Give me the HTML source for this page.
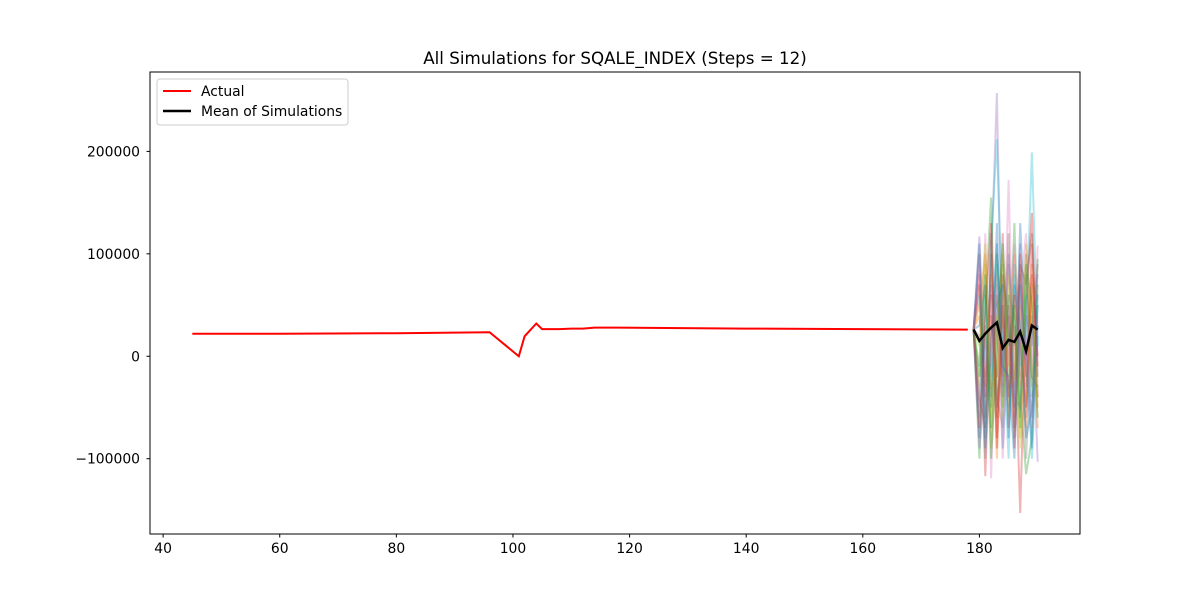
<!DOCTYPE html>
<html><head><meta charset="utf-8"><style>
body{margin:0;background:#fff;}
svg{display:block;font-family:"DejaVu Sans","Liberation Sans",sans-serif;}
</style></head><body>
<svg id="chart" width="1200" height="600" xmlns="http://www.w3.org/2000/svg">
<rect width="1200" height="600" fill="#fff"/>
<text x="615" y="64" font-size="16.7" text-anchor="middle">All Simulations for SQALE_INDEX (Steps = 12)</text>
<g id="plot"></g>
<rect x="150" y="72" width="930" height="462" fill="none" stroke="#000" stroke-width="1"/>
<g id="axes"></g>
<g>
<rect x="157" y="79" width="191" height="46" fill="#fff" stroke="#ccc" rx="3"/>
<line x1="163" y1="91" x2="191" y2="91" stroke="red" stroke-width="2"/>
<text x="201" y="96" font-size="13.9">Actual</text>
<line x1="163" y1="111" x2="191" y2="111" stroke="#000" stroke-width="2.5"/>
<text x="201" y="116" font-size="13.9">Mean of Simulations</text>
</g>
</svg>
<script>
const actualX=[45,60,80,96,101,102,104,105,108,110,112,114,118,140,160,178];
const actualY=[22000,22000,22500,23500,0,19500,32000,26500,26500,27000,27000,28000,28000,27000,26500,26000];
const simX=[179,180,181,182,183,184,185,186,187,188,189,190];
const meanY=[26000,15000,22000,28000,33000,8000,16000,14000,24000,5000,30000,26000];
const sims=[
[26000,117000,-20000,90000,257000,-40000,60000,-30000,110000,-60000,40000,-103000],
[26000,60000,-80000,110000,212000,20000,-50000,80000,-20000,30000,199000,10000],
[26000,-100000,50000,155000,-60000,90000,-20000,130000,-40000,-115000,-80000,95000],
[26000,80000,-117000,40000,-20000,120000,-70000,30000,-153000,50000,140000,-40000],
[26000,-50000,120000,-119000,70000,-40000,172000,-60000,60000,120000,-30000,108000],
[26000,40000,-30000,80000,-100000,60000,-10000,100000,-20000,-70000,90000,-70000],
[26000,-80000,20000,-40000,130000,-90000,40000,-50000,130000,10000,-60000,50000],
[26000,100000,-60000,20000,60000,-20000,120000,-80000,20000,100000,-20000,-30000],
[26000,-30000,90000,-90000,30000,100000,-60000,60000,-80000,-40000,70000,60000],
[26000,20000,-100000,120000,-40000,-70000,90000,10000,80000,-100000,30000,90000],
[26000,-60000,60000,-20000,90000,30000,-100000,90000,-10000,60000,-100000,20000],
[26000,70000,-40000,60000,-80000,80000,30000,-90000,100000,-20000,110000,-10000],
[26000,-20000,30000,-70000,100000,-50000,60000,40000,-60000,80000,-40000,70000],
[26000,50000,100000,-30000,-20000,40000,-30000,-20000,50000,-30000,60000,-50000],
[26000,-90000,-20000,70000,20000,-30000,100000,-40000,-50000,40000,10000,80000],
[26000,30000,70000,-50000,50000,70000,-80000,70000,30000,-80000,-50000,30000],
[26000,-40000,-70000,100000,-50000,10000,50000,-70000,90000,70000,120000,-20000],
[26000,90000,10000,-10000,80000,-100000,20000,110000,-30000,20000,-70000,40000],
[26000,10000,110000,-60000,40000,-60000,80000,-10000,-90000,110000,-10000,-40000],
[26000,-70000,40000,130000,-90000,50000,-40000,60000,10000,-50000,80000,0],
[26000,110000,-90000,10000,110000,-10000,-20000,-100000,70000,-10000,-90000,60000],
[26000,-10000,80000,-100000,10000,110000,10000,50000,-70000,90000,50000,-60000]
];
const colors=['#9467bd','#17becf','#2ca02c','#d62728','#e377c2','#ff7f0e','#1f77b4','#8c564b','#bcbd22','#7f7f7f','#17becf','#d62728','#2ca02c','#ff7f0e','#9467bd','#1f77b4','#8c564b','#e377c2','#bcbd22','#d62728','#1f77b4','#2ca02c'];
const xTicks=[40,60,80,100,120,140,160,180];
const yTicks=[-100000,0,100000,200000];
const yTickLabels=['−100000','0','100000','200000'];
const X0=37.75,X1=197.25,Y0=-173500,Y1=277500;
const L=150,R=1080,T=72,B=534;
const sx=v=>L+(v-X0)/(X1-X0)*(R-L);
const sy=v=>B-(v-Y0)/(Y1-Y0)*(B-T);
const NS='http://www.w3.org/2000/svg';
const plot=document.getElementById('plot'),axes=document.getElementById('axes');
function mk(tag,attrs,parent){const e=document.createElementNS(NS,tag);for(const k in attrs)e.setAttribute(k,attrs[k]);parent.appendChild(e);return e;}
const pts=(xs,ys)=>xs.map((x,i)=>sx(x).toFixed(1)+','+sy(ys[i]).toFixed(1)).join(' ');
sims.forEach((s,i)=>{
 const p=mk('polyline',{points:pts(simX,s),fill:'none',stroke:colors[i%colors.length],'stroke-width':2,'stroke-opacity':0.35},plot);
 
 
});
const a=mk('polyline',{points:pts(actualX,actualY),fill:'none',stroke:'red','stroke-width':2},plot);


const m=mk('polyline',{points:pts(simX,meanY),fill:'none',stroke:'#000','stroke-width':2.5},plot);


xTicks.forEach(t=>{
 const x=sx(t);
 mk('line',{x1:x,y1:B,x2:x,y2:B+3.5,stroke:'#000'},axes);
 const tx=mk('text',{x:x,y:B+19,'font-size':13.9,'text-anchor':'middle'},axes);tx.textContent=t;
 
 
});
yTicks.forEach((t,i)=>{
 const y=sy(t);
 mk('line',{x1:L-3.5,y1:y,x2:L,y2:y,stroke:'#000'},axes);
 const tx=mk('text',{x:L-10,y:y+5,'font-size':13.9,'text-anchor':'end'},axes);tx.textContent=yTickLabels[i];
 
 
});
</script>
</body></html>
